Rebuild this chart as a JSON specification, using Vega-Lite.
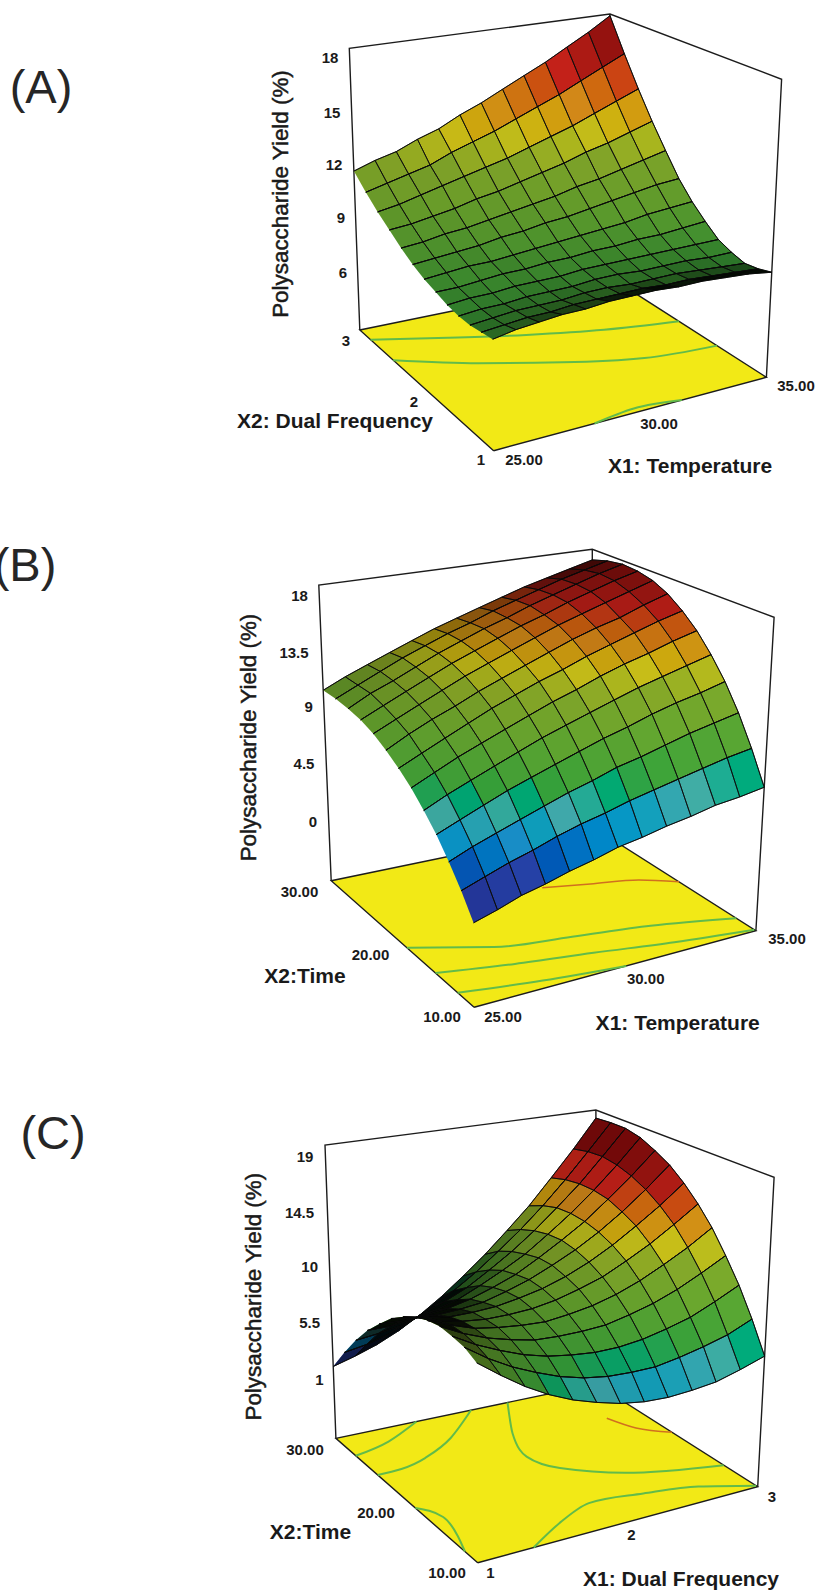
{"$schema":"https://vega.github.io/schema/vega-lite/v6.json","width":817,"height":1594,"autosize":{"type":"none"},"padding":0,"background":"#ffffff","view":{"stroke":null},
"datasets":{
"frames":[
{"s":"A","xf":493.6,"yf":450.7,"xr":766.4,"yr":377.3,"xk":611.8,"yk":278.3,"xl":359.8,"yl":330,"xF":491,"yF":134.7,"xR":781.6,"yR":79.3,"xK":610,"yK":14,"xL":349.3,"yL":48.3,"z0":3,"z1":18.6,"c0":2,"c1":17.9},
{"s":"B","xf":474.1,"yf":1007.3,"xr":755.9,"yr":930.7,"xk":592.3,"yk":826.7,"xl":331.2,"yl":880.7,"xF":472,"yF":675,"xR":774.1,"yR":617.3,"xK":592.3,"yK":549.3,"xL":318.8,"yL":585,"z0":-4.7,"z1":18.9,"c0":1,"c1":19},
{"s":"C","xf":477.7,"yf":1562.7,"xr":757.7,"yr":1486.7,"xk":595.9,"yk":1384,"xl":335.9,"yl":1438.3,"xF":476,"yF":1233.7,"xR":774.1,"yR":1177.3,"xK":595.9,"yK":1110,"xL":325,"yL":1145,"z0":-3.8,"z1":19.9,"c0":1.2,"c1":18.1}],
"geo":[
{"s":"A","k":"box","g":"A1","o":0,"u":0,"v":1,"h":0},{"s":"A","k":"box","g":"A1","o":1,"u":0,"v":1,"h":1},{"s":"A","k":"box","g":"A1","o":2,"u":1,"v":1,"h":1},{"s":"A","k":"box","g":"A1","o":3,"u":1,"v":0,"h":1},{"s":"A","k":"box","g":"A1","o":4,"u":1,"v":0,"h":0},{"s":"A","k":"box","g":"A2","o":0,"u":1,"v":1,"h":1},{"s":"A","k":"box","g":"A2","o":1,"u":1,"v":1,"h":0},
{"s":"B","k":"box","g":"B1","o":0,"u":0,"v":1,"h":0},{"s":"B","k":"box","g":"B1","o":1,"u":0,"v":1,"h":1},{"s":"B","k":"box","g":"B1","o":2,"u":1,"v":1,"h":1},{"s":"B","k":"box","g":"B1","o":3,"u":1,"v":0,"h":1},{"s":"B","k":"box","g":"B1","o":4,"u":1,"v":0,"h":0},{"s":"B","k":"box","g":"B2","o":0,"u":1,"v":1,"h":1},{"s":"B","k":"box","g":"B2","o":1,"u":1,"v":1,"h":0},
{"s":"C","k":"box","g":"C1","o":0,"u":0,"v":1,"h":0},{"s":"C","k":"box","g":"C1","o":1,"u":0,"v":1,"h":1},{"s":"C","k":"box","g":"C1","o":2,"u":1,"v":1,"h":1},{"s":"C","k":"box","g":"C1","o":3,"u":1,"v":0,"h":1},{"s":"C","k":"box","g":"C1","o":4,"u":1,"v":0,"h":0},{"s":"C","k":"box","g":"C2","o":0,"u":1,"v":1,"h":1},{"s":"C","k":"box","g":"C2","o":1,"u":1,"v":1,"h":0},
{"s":"A","k":"floor","g":"AF","o":0,"u":0,"v":0,"h":0},{"s":"A","k":"floor","g":"AF","o":1,"u":1,"v":0,"h":0},{"s":"A","k":"floor","g":"AF","o":2,"u":1,"v":1,"h":0},{"s":"A","k":"floor","g":"AF","o":3,"u":0,"v":1,"h":0},{"s":"A","k":"floor","g":"AF","o":4,"u":0,"v":0,"h":0},
{"s":"B","k":"floor","g":"BF","o":0,"u":0,"v":0,"h":0},{"s":"B","k":"floor","g":"BF","o":1,"u":1,"v":0,"h":0},{"s":"B","k":"floor","g":"BF","o":2,"u":1,"v":1,"h":0},{"s":"B","k":"floor","g":"BF","o":3,"u":0,"v":1,"h":0},{"s":"B","k":"floor","g":"BF","o":4,"u":0,"v":0,"h":0},
{"s":"C","k":"floor","g":"CF","o":0,"u":0,"v":0,"h":0},{"s":"C","k":"floor","g":"CF","o":1,"u":1,"v":0,"h":0},{"s":"C","k":"floor","g":"CF","o":2,"u":1,"v":1,"h":0},{"s":"C","k":"floor","g":"CF","o":3,"u":0,"v":1,"h":0},{"s":"C","k":"floor","g":"CF","o":4,"u":0,"v":0,"h":0},
{"s":"A","k":"low","g":"Ac1","o":0,"u":0,"v":0.92,"h":0},{"s":"A","k":"low","g":"Ac1","o":1,"u":0.25,"v":0.82,"h":0},{"s":"A","k":"low","g":"Ac1","o":2,"u":0.5,"v":0.72,"h":0},{"s":"A","k":"low","g":"Ac1","o":3,"u":0.75,"v":0.63,"h":0},{"s":"A","k":"low","g":"Ac1","o":4,"u":1,"v":0.565,"h":0},
{"s":"A","k":"low","g":"Ac2","o":0,"u":0,"v":0.75,"h":0},{"s":"A","k":"low","g":"Ac2","o":1,"u":0.25,"v":0.6,"h":0},{"s":"A","k":"low","g":"Ac2","o":2,"u":0.5,"v":0.47,"h":0},{"s":"A","k":"low","g":"Ac2","o":3,"u":0.75,"v":0.36,"h":0},{"s":"A","k":"low","g":"Ac2","o":4,"u":1,"v":0.32,"h":0},
{"s":"A","k":"low","g":"Ac3","o":0,"u":0.37,"v":0,"h":0},{"s":"A","k":"low","g":"Ac3","o":1,"u":0.53,"v":0.03,"h":0},{"s":"A","k":"low","g":"Ac3","o":2,"u":0.69,"v":0,"h":0},
{"s":"B","k":"low","g":"Bc1","o":0,"u":0,"v":0.47,"h":0},{"s":"B","k":"low","g":"Bc1","o":1,"u":0.25,"v":0.34,"h":0},{"s":"B","k":"low","g":"Bc1","o":2,"u":0.5,"v":0.28,"h":0},{"s":"B","k":"low","g":"Bc1","o":3,"u":0.75,"v":0.22,"h":0},{"s":"B","k":"low","g":"Bc1","o":4,"u":1,"v":0.12,"h":0},
{"s":"B","k":"low","g":"Bc2","o":0,"u":0,"v":0.27,"h":0},{"s":"B","k":"low","g":"Bc2","o":1,"u":0.25,"v":0.2,"h":0},{"s":"B","k":"low","g":"Bc2","o":2,"u":0.5,"v":0.14,"h":0},{"s":"B","k":"low","g":"Bc2","o":3,"u":0.75,"v":0.07,"h":0},{"s":"B","k":"low","g":"Bc2","o":4,"u":1,"v":0.01,"h":0},
{"s":"B","k":"low","g":"Bc3","o":0,"u":0,"v":0.115,"h":0},{"s":"B","k":"low","g":"Bc3","o":1,"u":0.27,"v":0.05,"h":0},{"s":"B","k":"low","g":"Bc3","o":2,"u":0.54,"v":0,"h":0},
{"s":"B","k":"high","g":"Bc4","o":0,"u":0.6,"v":0.65,"h":0},{"s":"B","k":"high","g":"Bc4","o":1,"u":0.75,"v":0.6,"h":0},{"s":"B","k":"high","g":"Bc4","o":2,"u":0.9,"v":0.55,"h":0},{"s":"B","k":"high","g":"Bc4","o":3,"u":1,"v":0.47,"h":0},
{"s":"C","k":"low","g":"Cc1","o":0,"u":0,"v":0.86,"h":0},{"s":"C","k":"low","g":"Cc1","o":1,"u":0.15,"v":0.906,"h":0},{"s":"C","k":"low","g":"Cc1","o":2,"u":0.31,"v":1,"h":0},
{"s":"C","k":"low","g":"Cc2","o":0,"u":0,"v":0.705,"h":0},{"s":"C","k":"low","g":"Cc2","o":1,"u":0.2,"v":0.745,"h":0},{"s":"C","k":"low","g":"Cc2","o":2,"u":0.35,"v":0.84,"h":0},{"s":"C","k":"low","g":"Cc2","o":3,"u":0.52,"v":1,"h":0},
{"s":"C","k":"low","g":"Cc3","o":0,"u":0.66,"v":1,"h":0},{"s":"C","k":"low","g":"Cc3","o":1,"u":0.55,"v":0.78,"h":0},{"s":"C","k":"low","g":"Cc3","o":2,"u":0.5,"v":0.6,"h":0},{"s":"C","k":"low","g":"Cc3","o":3,"u":0.55,"v":0.47,"h":0},{"s":"C","k":"low","g":"Cc3","o":4,"u":0.71,"v":0.33,"h":0},{"s":"C","k":"low","g":"Cc3","o":5,"u":1,"v":0.21,"h":0},
{"s":"C","k":"low","g":"Cc5","o":0,"u":0.2,"v":0,"h":0},{"s":"C","k":"low","g":"Cc5","o":1,"u":0.35,"v":0.11,"h":0},{"s":"C","k":"low","g":"Cc5","o":2,"u":0.5,"v":0.19,"h":0},{"s":"C","k":"low","g":"Cc5","o":3,"u":0.68,"v":0.16,"h":0},{"s":"C","k":"low","g":"Cc5","o":4,"u":0.85,"v":0.11,"h":0},{"s":"C","k":"low","g":"Cc5","o":5,"u":1,"v":0.01,"h":0},
{"s":"C","k":"low","g":"Cc6","o":0,"u":0,"v":0.44,"h":0},{"s":"C","k":"low","g":"Cc6","o":1,"u":0.05,"v":0.34,"h":0},{"s":"C","k":"low","g":"Cc6","o":2,"u":0.03,"v":0.2,"h":0},{"s":"C","k":"low","g":"Cc6","o":3,"u":0,"v":0.09,"h":0},
{"s":"C","k":"high","g":"Cc4","o":0,"u":0.88,"v":0.736,"h":0},{"s":"C","k":"high","g":"Cc4","o":1,"u":0.92,"v":0.62,"h":0},{"s":"C","k":"high","g":"Cc4","o":2,"u":1,"v":0.53,"h":0}],
"labels":[
{"k":"tick","t":"18","px":330,"py":58},{"k":"tick","t":"15","px":332,"py":113},{"k":"tick","t":"12","px":334,"py":165},{"k":"tick","t":"9","px":341,"py":218},{"k":"tick","t":"6","px":343,"py":273},{"k":"tick","t":"3","px":346,"py":341},{"k":"tick","t":"2","px":414,"py":402},{"k":"tick","t":"1","px":481,"py":460},{"k":"tick","t":"25.00","px":524,"py":460},{"k":"tick","t":"30.00","px":659,"py":424},{"k":"tick","t":"35.00","px":796,"py":386},
{"k":"tick","t":"18","px":299.5,"py":596},{"k":"tick","t":"13.5","px":294,"py":652.7},{"k":"tick","t":"9","px":308.6,"py":707},{"k":"tick","t":"4.5","px":304,"py":764},{"k":"tick","t":"0","px":313,"py":821.7},{"k":"tick","t":"30.00","px":299.5,"py":891.7},{"k":"tick","t":"20.00","px":370.5,"py":955},{"k":"tick","t":"10.00","px":442,"py":1017},{"k":"tick","t":"25.00","px":503,"py":1016.7},{"k":"tick","t":"30.00","px":645.7,"py":979},{"k":"tick","t":"35.00","px":787,"py":939},
{"k":"tick","t":"19","px":305,"py":1156.7},{"k":"tick","t":"14.5","px":299.5,"py":1212.7},{"k":"tick","t":"10","px":309.7,"py":1266.7},{"k":"tick","t":"5.5","px":309.7,"py":1323},{"k":"tick","t":"1","px":319.5,"py":1380},{"k":"tick","t":"30.00","px":305,"py":1450},{"k":"tick","t":"20.00","px":376,"py":1512.7},{"k":"tick","t":"10.00","px":447,"py":1573},{"k":"tick","t":"1","px":490.5,"py":1573},{"k":"tick","t":"2","px":631.5,"py":1535},{"k":"tick","t":"3","px":772,"py":1496.7},
{"k":"title","t":"X2: Dual Frequency","px":335,"py":422},{"k":"title","t":"X1: Temperature","px":690,"py":467},{"k":"title","t":"X2:Time","px":305,"py":976.7},{"k":"title","t":"X1: Temperature","px":677.7,"py":1024},{"k":"title","t":"X2:Time","px":310.5,"py":1533},{"k":"title","t":"X1: Dual Frequency","px":681,"py":1580},
{"k":"ytitle","t":"Polysaccharide Yield (%)","px":281,"py":194},{"k":"ytitle","t":"Polysaccharide Yield (%)","px":248.6,"py":737.5},{"k":"ytitle","t":"Polysaccharide Yield (%)","px":254,"py":1296.7},
{"k":"panel","t":"(A)","px":41,"py":89},{"k":"panel","t":"(B)","px":25,"py":567},{"k":"panel","t":"(C)","px":53,"py":1135}],
"nodes":[
{"s":"A","a":12,"b":12,"z":18.5},{"s":"A","a":11,"b":12,"z":17.7},{"s":"A","a":10,"b":12,"z":17},{"s":"A","a":9,"b":12,"z":16.3},{"s":"A","a":8,"b":12,"z":15.7},{"s":"A","a":7,"b":12,"z":15.1},{"s":"A","a":6,"b":12,"z":14.5},{"s":"A","a":5,"b":12,"z":14},{"s":"A","a":4,"b":12,"z":13.4},{"s":"A","a":3,"b":12,"z":13},{"s":"A","a":2,"b":12,"z":12.5},{"s":"A","a":1,"b":12,"z":12.2},{"s":"A","a":0,"b":12,"z":11.8},
{"s":"A","a":12,"b":11,"z":16.6},{"s":"A","a":11,"b":11,"z":16},{"s":"A","a":10,"b":11,"z":15.4},{"s":"A","a":9,"b":11,"z":14.8},{"s":"A","a":8,"b":11,"z":14.3},{"s":"A","a":7,"b":11,"z":13.8},{"s":"A","a":6,"b":11,"z":13.3},{"s":"A","a":5,"b":11,"z":12.9},{"s":"A","a":4,"b":11,"z":12.5},{"s":"A","a":3,"b":11,"z":12},{"s":"A","a":2,"b":11,"z":11.7},{"s":"A","a":1,"b":11,"z":11.4},{"s":"A","a":0,"b":11,"z":11.1},
{"s":"A","a":12,"b":10,"z":14.9},{"s":"A","a":11,"b":10,"z":14.4},{"s":"A","a":10,"b":10,"z":13.9},{"s":"A","a":9,"b":10,"z":13.4},{"s":"A","a":8,"b":10,"z":13},{"s":"A","a":7,"b":10,"z":12.6},{"s":"A","a":6,"b":10,"z":12.2},{"s":"A","a":5,"b":10,"z":11.9},{"s":"A","a":4,"b":10,"z":11.6},{"s":"A","a":3,"b":10,"z":11.3},{"s":"A","a":2,"b":10,"z":11},{"s":"A","a":1,"b":10,"z":10.7},{"s":"A","a":0,"b":10,"z":10.5},
{"s":"A","a":12,"b":9,"z":13.4},{"s":"A","a":11,"b":9,"z":13},{"s":"A","a":10,"b":9,"z":12.6},{"s":"A","a":9,"b":9,"z":12.3},{"s":"A","a":8,"b":9,"z":11.9},{"s":"A","a":7,"b":9,"z":11.6},{"s":"A","a":6,"b":9,"z":11.3},{"s":"A","a":5,"b":9,"z":11},{"s":"A","a":4,"b":9,"z":10.8},{"s":"A","a":3,"b":9,"z":10.5},{"s":"A","a":2,"b":9,"z":10.3},{"s":"A","a":1,"b":9,"z":10.1},{"s":"A","a":0,"b":9,"z":10},
{"s":"A","a":12,"b":8,"z":12.1},{"s":"A","a":11,"b":8,"z":11.8},{"s":"A","a":10,"b":8,"z":11.5},{"s":"A","a":9,"b":8,"z":11.2},{"s":"A","a":8,"b":8,"z":11},{"s":"A","a":7,"b":8,"z":10.7},{"s":"A","a":6,"b":8,"z":10.5},{"s":"A","a":5,"b":8,"z":10.3},{"s":"A","a":4,"b":8,"z":10.1},{"s":"A","a":3,"b":8,"z":9.9},{"s":"A","a":2,"b":8,"z":9.8},{"s":"A","a":1,"b":8,"z":9.6},{"s":"A","a":0,"b":8,"z":9.5},
{"s":"A","a":12,"b":7,"z":10.9},{"s":"A","a":11,"b":7,"z":10.8},{"s":"A","a":10,"b":7,"z":10.6},{"s":"A","a":9,"b":7,"z":10.4},{"s":"A","a":8,"b":7,"z":10.2},{"s":"A","a":7,"b":7,"z":10},{"s":"A","a":6,"b":7,"z":9.9},{"s":"A","a":5,"b":7,"z":9.7},{"s":"A","a":4,"b":7,"z":9.6},{"s":"A","a":3,"b":7,"z":9.4},{"s":"A","a":2,"b":7,"z":9.3},{"s":"A","a":1,"b":7,"z":9.2},{"s":"A","a":0,"b":7,"z":9.1},
{"s":"A","a":12,"b":6,"z":10},{"s":"A","a":11,"b":6,"z":9.9},{"s":"A","a":10,"b":6,"z":9.8},{"s":"A","a":9,"b":6,"z":9.6},{"s":"A","a":8,"b":6,"z":9.5},{"s":"A","a":7,"b":6,"z":9.4},{"s":"A","a":6,"b":6,"z":9.3},{"s":"A","a":5,"b":6,"z":9.2},{"s":"A","a":4,"b":6,"z":9.1},{"s":"A","a":3,"b":6,"z":9},{"s":"A","a":2,"b":6,"z":9},{"s":"A","a":1,"b":6,"z":8.9},{"s":"A","a":0,"b":6,"z":8.8},
{"s":"A","a":12,"b":5,"z":9.3},{"s":"A","a":11,"b":5,"z":9.2},{"s":"A","a":10,"b":5,"z":9.1},{"s":"A","a":9,"b":5,"z":9.1},{"s":"A","a":8,"b":5,"z":9},{"s":"A","a":7,"b":5,"z":9},{"s":"A","a":6,"b":5,"z":8.9},{"s":"A","a":5,"b":5,"z":8.9},{"s":"A","a":4,"b":5,"z":8.8},{"s":"A","a":3,"b":5,"z":8.8},{"s":"A","a":2,"b":5,"z":8.7},{"s":"A","a":1,"b":5,"z":8.6},{"s":"A","a":0,"b":5,"z":8.6},
{"s":"A","a":12,"b":4,"z":8.7},{"s":"A","a":11,"b":4,"z":8.7},{"s":"A","a":10,"b":4,"z":8.7},{"s":"A","a":9,"b":4,"z":8.7},{"s":"A","a":8,"b":4,"z":8.7},{"s":"A","a":7,"b":4,"z":8.7},{"s":"A","a":6,"b":4,"z":8.7},{"s":"A","a":5,"b":4,"z":8.6},{"s":"A","a":4,"b":4,"z":8.6},{"s":"A","a":3,"b":4,"z":8.6},{"s":"A","a":2,"b":4,"z":8.5},{"s":"A","a":1,"b":4,"z":8.5},{"s":"A","a":0,"b":4,"z":8.4},
{"s":"A","a":12,"b":3,"z":8.4},{"s":"A","a":11,"b":3,"z":8.4},{"s":"A","a":10,"b":3,"z":8.5},{"s":"A","a":9,"b":3,"z":8.5},{"s":"A","a":8,"b":3,"z":8.5},{"s":"A","a":7,"b":3,"z":8.6},{"s":"A","a":6,"b":3,"z":8.6},{"s":"A","a":5,"b":3,"z":8.5},{"s":"A","a":4,"b":3,"z":8.5},{"s":"A","a":3,"b":3,"z":8.5},{"s":"A","a":2,"b":3,"z":8.4},{"s":"A","a":1,"b":3,"z":8.4},{"s":"A","a":0,"b":3,"z":8.3},
{"s":"A","a":12,"b":2,"z":8.2},{"s":"A","a":11,"b":2,"z":8.3},{"s":"A","a":10,"b":2,"z":8.4},{"s":"A","a":9,"b":2,"z":8.5},{"s":"A","a":8,"b":2,"z":8.5},{"s":"A","a":7,"b":2,"z":8.5},{"s":"A","a":6,"b":2,"z":8.6},{"s":"A","a":5,"b":2,"z":8.6},{"s":"A","a":4,"b":2,"z":8.5},{"s":"A","a":3,"b":2,"z":8.5},{"s":"A","a":2,"b":2,"z":8.5},{"s":"A","a":1,"b":2,"z":8.4},{"s":"A","a":0,"b":2,"z":8.3},
{"s":"A","a":12,"b":1,"z":8.3},{"s":"A","a":11,"b":1,"z":8.4},{"s":"A","a":10,"b":1,"z":8.5},{"s":"A","a":9,"b":1,"z":8.6},{"s":"A","a":8,"b":1,"z":8.6},{"s":"A","a":7,"b":1,"z":8.7},{"s":"A","a":6,"b":1,"z":8.7},{"s":"A","a":5,"b":1,"z":8.7},{"s":"A","a":4,"b":1,"z":8.7},{"s":"A","a":3,"b":1,"z":8.6},{"s":"A","a":2,"b":1,"z":8.6},{"s":"A","a":1,"b":1,"z":8.5},{"s":"A","a":0,"b":1,"z":8.4},
{"s":"A","a":12,"b":0,"z":8.5},{"s":"A","a":11,"b":0,"z":8.7},{"s":"A","a":10,"b":0,"z":8.8},{"s":"A","a":9,"b":0,"z":8.9},{"s":"A","a":8,"b":0,"z":8.9},{"s":"A","a":7,"b":0,"z":9},{"s":"A","a":6,"b":0,"z":9},{"s":"A","a":5,"b":0,"z":9},{"s":"A","a":4,"b":0,"z":8.9},{"s":"A","a":3,"b":0,"z":8.9},{"s":"A","a":2,"b":0,"z":8.8},{"s":"A","a":1,"b":0,"z":8.7},{"s":"A","a":0,"b":0,"z":8.5},
{"s":"B","a":12,"b":12,"z":18},{"s":"B","a":11,"b":12,"z":17.5},{"s":"B","a":10,"b":12,"z":17},{"s":"B","a":9,"b":12,"z":16.5},{"s":"B","a":8,"b":12,"z":15.9},{"s":"B","a":7,"b":12,"z":15.3},{"s":"B","a":6,"b":12,"z":14.7},{"s":"B","a":5,"b":12,"z":14.1},{"s":"B","a":4,"b":12,"z":13.4},{"s":"B","a":3,"b":12,"z":12.7},{"s":"B","a":2,"b":12,"z":12},{"s":"B","a":1,"b":12,"z":11.3},{"s":"B","a":0,"b":12,"z":10.5},
{"s":"B","a":12,"b":11,"z":18.4},{"s":"B","a":11,"b":11,"z":17.9},{"s":"B","a":10,"b":11,"z":17.4},{"s":"B","a":9,"b":11,"z":16.8},{"s":"B","a":8,"b":11,"z":16.2},{"s":"B","a":7,"b":11,"z":15.6},{"s":"B","a":6,"b":11,"z":14.9},{"s":"B","a":5,"b":11,"z":14.3},{"s":"B","a":4,"b":11,"z":13.6},{"s":"B","a":3,"b":11,"z":12.9},{"s":"B","a":2,"b":11,"z":12.1},{"s":"B","a":1,"b":11,"z":11.3},{"s":"B","a":0,"b":11,"z":10.5},
{"s":"B","a":12,"b":10,"z":18.6},{"s":"B","a":11,"b":10,"z":18.1},{"s":"B","a":10,"b":10,"z":17.5},{"s":"B","a":9,"b":10,"z":16.9},{"s":"B","a":8,"b":10,"z":16.3},{"s":"B","a":7,"b":10,"z":15.6},{"s":"B","a":6,"b":10,"z":15},{"s":"B","a":5,"b":10,"z":14.3},{"s":"B","a":4,"b":10,"z":13.6},{"s":"B","a":3,"b":10,"z":12.8},{"s":"B","a":2,"b":10,"z":12},{"s":"B","a":1,"b":10,"z":11.3},{"s":"B","a":0,"b":10,"z":10.4},
{"s":"B","a":12,"b":9,"z":18.5},{"s":"B","a":11,"b":9,"z":18},{"s":"B","a":10,"b":9,"z":17.4},{"s":"B","a":9,"b":9,"z":16.8},{"s":"B","a":8,"b":9,"z":16.1},{"s":"B","a":7,"b":9,"z":15.5},{"s":"B","a":6,"b":9,"z":14.8},{"s":"B","a":5,"b":9,"z":14.1},{"s":"B","a":4,"b":9,"z":13.4},{"s":"B","a":3,"b":9,"z":12.6},{"s":"B","a":2,"b":9,"z":11.8},{"s":"B","a":1,"b":9,"z":11},{"s":"B","a":0,"b":9,"z":10.2},
{"s":"B","a":12,"b":8,"z":18.2},{"s":"B","a":11,"b":8,"z":17.6},{"s":"B","a":10,"b":8,"z":17},{"s":"B","a":9,"b":8,"z":16.4},{"s":"B","a":8,"b":8,"z":15.8},{"s":"B","a":7,"b":8,"z":15.1},{"s":"B","a":6,"b":8,"z":14.4},{"s":"B","a":5,"b":8,"z":13.7},{"s":"B","a":4,"b":8,"z":13},{"s":"B","a":3,"b":8,"z":12.2},{"s":"B","a":2,"b":8,"z":11.4},{"s":"B","a":1,"b":8,"z":10.6},{"s":"B","a":0,"b":8,"z":9.8},
{"s":"B","a":12,"b":7,"z":17.6},{"s":"B","a":11,"b":7,"z":17},{"s":"B","a":10,"b":7,"z":16.3},{"s":"B","a":9,"b":7,"z":15.8},{"s":"B","a":8,"b":7,"z":15.2},{"s":"B","a":7,"b":7,"z":14.5},{"s":"B","a":6,"b":7,"z":13.8},{"s":"B","a":5,"b":7,"z":13.1},{"s":"B","a":4,"b":7,"z":12.4},{"s":"B","a":3,"b":7,"z":11.6},{"s":"B","a":2,"b":7,"z":10.9},{"s":"B","a":1,"b":7,"z":10.1},{"s":"B","a":0,"b":7,"z":9.2},
{"s":"B","a":12,"b":6,"z":16.7},{"s":"B","a":11,"b":6,"z":16.2},{"s":"B","a":10,"b":6,"z":15.6},{"s":"B","a":9,"b":6,"z":15},{"s":"B","a":8,"b":6,"z":14.4},{"s":"B","a":7,"b":6,"z":13.7},{"s":"B","a":6,"b":6,"z":13.1},{"s":"B","a":5,"b":6,"z":12.4},{"s":"B","a":4,"b":6,"z":11.7},{"s":"B","a":3,"b":6,"z":10.9},{"s":"B","a":2,"b":6,"z":10.1},{"s":"B","a":1,"b":6,"z":9.3},{"s":"B","a":0,"b":6,"z":8.5},
{"s":"B","a":12,"b":5,"z":15.6},{"s":"B","a":11,"b":5,"z":15.1},{"s":"B","a":10,"b":5,"z":14.5},{"s":"B","a":9,"b":5,"z":14},{"s":"B","a":8,"b":5,"z":13.4},{"s":"B","a":7,"b":5,"z":12.7},{"s":"B","a":6,"b":5,"z":12.1},{"s":"B","a":5,"b":5,"z":11.4},{"s":"B","a":4,"b":5,"z":10.7},{"s":"B","a":3,"b":5,"z":10},{"s":"B","a":2,"b":5,"z":9.3},{"s":"B","a":1,"b":5,"z":8.5},{"s":"B","a":0,"b":5,"z":7.7},
{"s":"B","a":12,"b":4,"z":14.2},{"s":"B","a":11,"b":4,"z":13.7},{"s":"B","a":10,"b":4,"z":13.2},{"s":"B","a":9,"b":4,"z":12.7},{"s":"B","a":8,"b":4,"z":12.1},{"s":"B","a":7,"b":4,"z":11.5},{"s":"B","a":6,"b":4,"z":10.9},{"s":"B","a":5,"b":4,"z":10.3},{"s":"B","a":4,"b":4,"z":9.6},{"s":"B","a":3,"b":4,"z":8.9},{"s":"B","a":2,"b":4,"z":8.2},{"s":"B","a":1,"b":4,"z":7.5},{"s":"B","a":0,"b":4,"z":6.7},
{"s":"B","a":12,"b":3,"z":12.6},{"s":"B","a":11,"b":3,"z":12.1},{"s":"B","a":10,"b":3,"z":11.7},{"s":"B","a":9,"b":3,"z":11.2},{"s":"B","a":8,"b":3,"z":10.6},{"s":"B","a":7,"b":3,"z":10.1},{"s":"B","a":6,"b":3,"z":9.5},{"s":"B","a":5,"b":3,"z":8.9},{"s":"B","a":4,"b":3,"z":8.3},{"s":"B","a":3,"b":3,"z":7.7},{"s":"B","a":2,"b":3,"z":7},{"s":"B","a":1,"b":3,"z":6.3},{"s":"B","a":0,"b":3,"z":5.6},
{"s":"B","a":12,"b":2,"z":10.7},{"s":"B","a":11,"b":2,"z":10.3},{"s":"B","a":10,"b":2,"z":9.9},{"s":"B","a":9,"b":2,"z":9.4},{"s":"B","a":8,"b":2,"z":8.9},{"s":"B","a":7,"b":2,"z":8.5},{"s":"B","a":6,"b":2,"z":7.9},{"s":"B","a":5,"b":2,"z":7.4},{"s":"B","a":4,"b":2,"z":6.8},{"s":"B","a":3,"b":2,"z":6.2},{"s":"B","a":2,"b":2,"z":5.6},{"s":"B","a":1,"b":2,"z":5},{"s":"B","a":0,"b":2,"z":4.3},
{"s":"B","a":12,"b":1,"z":8.5},{"s":"B","a":11,"b":1,"z":8.2},{"s":"B","a":10,"b":1,"z":7.8},{"s":"B","a":9,"b":1,"z":7.4},{"s":"B","a":8,"b":1,"z":7},{"s":"B","a":7,"b":1,"z":6.6},{"s":"B","a":6,"b":1,"z":6.1},{"s":"B","a":5,"b":1,"z":5.7},{"s":"B","a":4,"b":1,"z":5.2},{"s":"B","a":3,"b":1,"z":4.6},{"s":"B","a":2,"b":1,"z":4.1},{"s":"B","a":1,"b":1,"z":3.5},{"s":"B","a":0,"b":1,"z":2.9},
{"s":"B","a":12,"b":0,"z":6.1},{"s":"B","a":11,"b":0,"z":5.8},{"s":"B","a":10,"b":0,"z":5.6},{"s":"B","a":9,"b":0,"z":5.2},{"s":"B","a":8,"b":0,"z":4.9},{"s":"B","a":7,"b":0,"z":4.5},{"s":"B","a":6,"b":0,"z":4.2},{"s":"B","a":5,"b":0,"z":3.7},{"s":"B","a":4,"b":0,"z":3.3},{"s":"B","a":3,"b":0,"z":2.8},{"s":"B","a":2,"b":0,"z":2.4},{"s":"B","a":1,"b":0,"z":1.8},{"s":"B","a":0,"b":0,"z":1.3},
{"s":"C","a":12,"b":12,"z":19.2},{"s":"C","a":11,"b":12,"z":16.8},{"s":"C","a":10,"b":12,"z":14.6},{"s":"C","a":9,"b":12,"z":12.5},{"s":"C","a":8,"b":12,"z":10.7},{"s":"C","a":7,"b":12,"z":9},{"s":"C","a":6,"b":12,"z":7.5},{"s":"C","a":5,"b":12,"z":6.1},{"s":"C","a":4,"b":12,"z":4.9},{"s":"C","a":3,"b":12,"z":3.9},{"s":"C","a":2,"b":12,"z":3.1},{"s":"C","a":1,"b":12,"z":2.5},{"s":"C","a":0,"b":12,"z":2},
{"s":"C","a":12,"b":11,"z":19.3},{"s":"C","a":11,"b":11,"z":17.1},{"s":"C","a":10,"b":11,"z":15},{"s":"C","a":9,"b":11,"z":13.1},{"s":"C","a":8,"b":11,"z":11.4},{"s":"C","a":7,"b":11,"z":9.9},{"s":"C","a":6,"b":11,"z":8.5},{"s":"C","a":5,"b":11,"z":7.3},{"s":"C","a":4,"b":11,"z":6.3},{"s":"C","a":3,"b":11,"z":5.4},{"s":"C","a":2,"b":11,"z":4.7},{"s":"C","a":1,"b":11,"z":4.2},{"s":"C","a":0,"b":11,"z":3.9},
{"s":"C","a":12,"b":10,"z":19.3},{"s":"C","a":11,"b":10,"z":17.2},{"s":"C","a":10,"b":10,"z":15.2},{"s":"C","a":9,"b":10,"z":13.5},{"s":"C","a":8,"b":10,"z":11.9},{"s":"C","a":7,"b":10,"z":10.5},{"s":"C","a":6,"b":10,"z":9.3},{"s":"C","a":5,"b":10,"z":8.2},{"s":"C","a":4,"b":10,"z":7.4},{"s":"C","a":3,"b":10,"z":6.7},{"s":"C","a":2,"b":10,"z":6.1},{"s":"C","a":1,"b":10,"z":5.8},{"s":"C","a":0,"b":10,"z":5.6},
{"s":"C","a":12,"b":9,"z":19},{"s":"C","a":11,"b":9,"z":17},{"s":"C","a":10,"b":9,"z":15.2},{"s":"C","a":9,"b":9,"z":13.6},{"s":"C","a":8,"b":9,"z":12.2},{"s":"C","a":7,"b":9,"z":10.9},{"s":"C","a":6,"b":9,"z":9.9},{"s":"C","a":5,"b":9,"z":9},{"s":"C","a":4,"b":9,"z":8.2},{"s":"C","a":3,"b":9,"z":7.7},{"s":"C","a":2,"b":9,"z":7.3},{"s":"C","a":1,"b":9,"z":7.1},{"s":"C","a":0,"b":9,"z":7.1},
{"s":"C","a":12,"b":8,"z":18.4},{"s":"C","a":11,"b":8,"z":16.6},{"s":"C","a":10,"b":8,"z":15},{"s":"C","a":9,"b":8,"z":13.5},{"s":"C","a":8,"b":8,"z":12.3},{"s":"C","a":7,"b":8,"z":11.2},{"s":"C","a":6,"b":8,"z":10.2},{"s":"C","a":5,"b":8,"z":9.5},{"s":"C","a":4,"b":8,"z":8.9},{"s":"C","a":3,"b":8,"z":8.5},{"s":"C","a":2,"b":8,"z":8.3},{"s":"C","a":1,"b":8,"z":8.2},{"s":"C","a":0,"b":8,"z":8.3},
{"s":"C","a":12,"b":7,"z":17.7},{"s":"C","a":11,"b":7,"z":16},{"s":"C","a":10,"b":7,"z":14.5},{"s":"C","a":9,"b":7,"z":13.2},{"s":"C","a":8,"b":7,"z":12.1},{"s":"C","a":7,"b":7,"z":11.2},{"s":"C","a":6,"b":7,"z":10.4},{"s":"C","a":5,"b":7,"z":9.8},{"s":"C","a":4,"b":7,"z":9.3},{"s":"C","a":3,"b":7,"z":9.1},{"s":"C","a":2,"b":7,"z":9},{"s":"C","a":1,"b":7,"z":9.1},{"s":"C","a":0,"b":7,"z":9.4},
{"s":"C","a":12,"b":6,"z":16.7},{"s":"C","a":11,"b":6,"z":15.2},{"s":"C","a":10,"b":6,"z":13.9},{"s":"C","a":9,"b":6,"z":12.7},{"s":"C","a":8,"b":6,"z":11.7},{"s":"C","a":7,"b":6,"z":10.9},{"s":"C","a":6,"b":6,"z":10.3},{"s":"C","a":5,"b":6,"z":9.9},{"s":"C","a":4,"b":6,"z":9.6},{"s":"C","a":3,"b":6,"z":9.5},{"s":"C","a":2,"b":6,"z":9.5},{"s":"C","a":1,"b":6,"z":9.8},{"s":"C","a":0,"b":6,"z":10.2},
{"s":"C","a":12,"b":5,"z":15.5},{"s":"C","a":11,"b":5,"z":14.2},{"s":"C","a":10,"b":5,"z":13},{"s":"C","a":9,"b":5,"z":12},{"s":"C","a":8,"b":5,"z":11.1},{"s":"C","a":7,"b":5,"z":10.5},{"s":"C","a":6,"b":5,"z":10},{"s":"C","a":5,"b":5,"z":9.7},{"s":"C","a":4,"b":5,"z":9.6},{"s":"C","a":3,"b":5,"z":9.6},{"s":"C","a":2,"b":5,"z":9.8},{"s":"C","a":1,"b":5,"z":10.2},{"s":"C","a":0,"b":5,"z":10.8},
{"s":"C","a":12,"b":4,"z":14.1},{"s":"C","a":11,"b":4,"z":12.9},{"s":"C","a":10,"b":4,"z":11.9},{"s":"C","a":9,"b":4,"z":11},{"s":"C","a":8,"b":4,"z":10.3},{"s":"C","a":7,"b":4,"z":9.8},{"s":"C","a":6,"b":4,"z":9.5},{"s":"C","a":5,"b":4,"z":9.3},{"s":"C","a":4,"b":4,"z":9.4},{"s":"C","a":3,"b":4,"z":9.6},{"s":"C","a":2,"b":4,"z":9.9},{"s":"C","a":1,"b":4,"z":10.5},{"s":"C","a":0,"b":4,"z":11.2},
{"s":"C","a":12,"b":3,"z":12.4},{"s":"C","a":11,"b":3,"z":11.4},{"s":"C","a":10,"b":3,"z":10.5},{"s":"C","a":9,"b":3,"z":9.8},{"s":"C","a":8,"b":3,"z":9.3},{"s":"C","a":7,"b":3,"z":8.9},{"s":"C","a":6,"b":3,"z":8.8},{"s":"C","a":5,"b":3,"z":8.8},{"s":"C","a":4,"b":3,"z":8.9},{"s":"C","a":3,"b":3,"z":9.3},{"s":"C","a":2,"b":3,"z":9.8},{"s":"C","a":1,"b":3,"z":10.5},{"s":"C","a":0,"b":3,"z":11.4},
{"s":"C","a":12,"b":2,"z":10.6},{"s":"C","a":11,"b":2,"z":9.7},{"s":"C","a":10,"b":2,"z":8.9},{"s":"C","a":9,"b":2,"z":8.4},{"s":"C","a":8,"b":2,"z":8},{"s":"C","a":7,"b":2,"z":7.8},{"s":"C","a":6,"b":2,"z":7.8},{"s":"C","a":5,"b":2,"z":8},{"s":"C","a":4,"b":2,"z":8.3},{"s":"C","a":3,"b":2,"z":8.8},{"s":"C","a":2,"b":2,"z":9.5},{"s":"C","a":1,"b":2,"z":10.3},{"s":"C","a":0,"b":2,"z":11.3},
{"s":"C","a":12,"b":1,"z":8.5},{"s":"C","a":11,"b":1,"z":7.7},{"s":"C","a":10,"b":1,"z":7.2},{"s":"C","a":9,"b":1,"z":6.8},{"s":"C","a":8,"b":1,"z":6.5},{"s":"C","a":7,"b":1,"z":6.5},{"s":"C","a":6,"b":1,"z":6.6},{"s":"C","a":5,"b":1,"z":6.9},{"s":"C","a":4,"b":1,"z":7.4},{"s":"C","a":3,"b":1,"z":8.1},{"s":"C","a":2,"b":1,"z":8.9},{"s":"C","a":1,"b":1,"z":9.9},{"s":"C","a":0,"b":1,"z":11.1},
{"s":"C","a":12,"b":0,"z":6.2},{"s":"C","a":11,"b":0,"z":5.6},{"s":"C","a":10,"b":0,"z":5.1},{"s":"C","a":9,"b":0,"z":4.9},{"s":"C","a":8,"b":0,"z":4.8},{"s":"C","a":7,"b":0,"z":4.9},{"s":"C","a":6,"b":0,"z":5.2},{"s":"C","a":5,"b":0,"z":5.7},{"s":"C","a":4,"b":0,"z":6.3},{"s":"C","a":3,"b":0,"z":7.1},{"s":"C","a":2,"b":0,"z":8.1},{"s":"C","a":1,"b":0,"z":9.3},{"s":"C","a":0,"b":0,"z":10.6}]},
"encoding":{"x":{"field":"px","type":"quantitative","scale":{"domain":[0,817],"nice":false,"zero":false},"axis":null},"y":{"field":"py","type":"quantitative","scale":{"domain":[1594,0],"nice":false,"zero":false},"axis":null}},
"layer":[
{"data":{"name":"geo"},
"transform":[{"lookup":"s","from":{"data":{"name":"frames"},"key":"s","fields":["xf","yf","xr","yr","xk","yk","xl","yl","xF","yF","xR","yR","xK","yK","xL","yL"]}},
{"calculate":"(1-datum.h)*((1-datum.v)*((1-datum.u)*datum.xf+datum.u*datum.xr)+datum.v*((1-datum.u)*datum.xl+datum.u*datum.xk))+datum.h*((1-datum.v)*((1-datum.u)*datum.xF+datum.u*datum.xR)+datum.v*((1-datum.u)*datum.xL+datum.u*datum.xK))","as":"px"},
{"calculate":"(1-datum.h)*((1-datum.v)*((1-datum.u)*datum.yf+datum.u*datum.yr)+datum.v*((1-datum.u)*datum.yl+datum.u*datum.yk))+datum.h*((1-datum.v)*((1-datum.u)*datum.yF+datum.u*datum.yR)+datum.v*((1-datum.u)*datum.yL+datum.u*datum.yK))","as":"py"}],
"layer":[
{"transform":[{"filter":"datum.k=='box'"}],"mark":{"type":"line","stroke":"#1c1c1c","strokeWidth":1.4},"encoding":{"detail":{"field":"g"},"order":{"field":"o","type":"quantitative"}}},
{"transform":[{"filter":"datum.k=='floor'"}],"mark":{"type":"line","stroke":"#1c1c1c","strokeWidth":1.4},"encoding":{"detail":{"field":"g"},"order":{"field":"o","type":"quantitative"},"fill":{"value":"#f2e916"}}},
{"transform":[{"filter":"datum.k=='low'"}],"mark":{"type":"line","stroke":"#62bb4a","strokeWidth":2,"interpolate":"monotone"},"encoding":{"detail":{"field":"g"},"order":{"field":"o","type":"quantitative"}}},
{"transform":[{"filter":"datum.k=='high'"}],"mark":{"type":"line","stroke":"#d0701f","strokeWidth":1.5,"interpolate":"monotone"},"encoding":{"detail":{"field":"g"},"order":{"field":"o","type":"quantitative"}}}
]},
{"data":{"name":"nodes"},
"transform":[{"calculate":"[0,1,2,3]","as":"c"},{"flatten":["c"]},
{"calculate":"datum.a-((datum.c==1||datum.c==2)?1:0)","as":"ca"},{"calculate":"datum.b-(datum.c>=2?1:0)","as":"cb"},
{"filter":"datum.ca>=0&&datum.ca<12&&datum.cb>=0&&datum.cb<12"},
{"calculate":"datum.s+'_'+datum.ca+'_'+datum.cb","as":"cell"},
{"lookup":"s","from":{"data":{"name":"frames"},"key":"s","fields":["xf","yf","xr","yr","xk","yk","xl","yl","xF","yF","xR","yR","xK","yK","xL","yL","z0","z1","c0","c1"]}},
{"calculate":"datum.a/12","as":"u"},{"calculate":"datum.b/12","as":"v"},{"calculate":"(datum.z-datum.z0)/(datum.z1-datum.z0)","as":"h"},
{"calculate":"(1-datum.h)*((1-datum.v)*((1-datum.u)*datum.xf+datum.u*datum.xr)+datum.v*((1-datum.u)*datum.xl+datum.u*datum.xk))+datum.h*((1-datum.v)*((1-datum.u)*datum.xF+datum.u*datum.xR)+datum.v*((1-datum.u)*datum.xL+datum.u*datum.xK))","as":"px"},
{"calculate":"(1-datum.h)*((1-datum.v)*((1-datum.u)*datum.yf+datum.u*datum.yr)+datum.v*((1-datum.u)*datum.yl+datum.u*datum.yk))+datum.h*((1-datum.v)*((1-datum.u)*datum.yF+datum.u*datum.yR)+datum.v*((1-datum.u)*datum.yL+datum.u*datum.yK))","as":"py"},
{"calculate":"datum.c==2?datum.px:(datum.c==0?-datum.px:0)","as":"d1x"},{"calculate":"datum.c==2?datum.py:(datum.c==0?-datum.py:0)","as":"d1y"},
{"calculate":"datum.c==3?datum.px:(datum.c==1?-datum.px:0)","as":"d2x"},{"calculate":"datum.c==3?datum.py:(datum.c==1?-datum.py:0)","as":"d2y"},
{"joinaggregate":[{"op":"mean","field":"z","as":"zm"},{"op":"sum","field":"d1x","as":"ax"},{"op":"sum","field":"d1y","as":"ay"},{"op":"sum","field":"d2x","as":"bx"},{"op":"sum","field":"d2y","as":"by"}],"groupby":["cell"]},
{"calculate":"(datum.zm-datum.c0)/(datum.c1-datum.c0)","as":"t"},
{"calculate":"0.5*abs(datum.ax*datum.by-datum.bx*datum.ay)/11","as":"ar"},
{"calculate":"min(0.95,0.04+9/max(datum.ar,0.5))","as":"shade"}],
"layer":[
{"mark":{"type":"line","stroke":"#0a0a0a","strokeWidth":0.9,"strokeJoin":"round"},"encoding":{"detail":{"field":"cell"},"order":{"field":"c","type":"quantitative"},"fill":{"field":"t","type":"quantitative","legend":null,"scale":{"domain":[0,0.14,0.23,0.3,0.38,0.62,0.7,0.78,0.87,1],"range":["#27339c","#2c4cc4","#1fa8ea","#55c8c4","#3fbe45","#9cc832","#f2e61e","#f8a01e","#e8281e","#900c0c"],"clamp":true}}}},
{"mark":{"type":"line","stroke":"#0a0a0a","strokeWidth":0.9,"strokeOpacity":0.8,"fill":"#000000"},"encoding":{"detail":{"field":"cell"},"order":{"field":"c","type":"quantitative"},"fillOpacity":{"field":"shade","type":"quantitative","legend":null,"scale":null}}}
]},
{"data":{"name":"labels"},
"layer":[
{"transform":[{"filter":"datum.k=='tick'"}],"mark":{"type":"text","font":"Liberation Sans","fontWeight":"bold","fontSize":15,"fill":"#1a1a1a","align":"center","baseline":"middle"},"encoding":{"text":{"field":"t"}}},
{"transform":[{"filter":"datum.k=='title'"}],"mark":{"type":"text","font":"Liberation Sans","fontWeight":"bold","fontSize":21,"fill":"#1a1a1a","align":"center","baseline":"middle"},"encoding":{"text":{"field":"t"}}},
{"transform":[{"filter":"datum.k=='ytitle'"}],"mark":{"type":"text","font":"Liberation Sans","fontSize":22.4,"fill":"#1a1a1a","stroke":"#1a1a1a","strokeWidth":0.5,"align":"center","baseline":"middle","angle":270},"encoding":{"text":{"field":"t"}}},
{"transform":[{"filter":"datum.k=='panel'"}],"mark":{"type":"text","font":"Liberation Sans","fontSize":47,"fill":"#262626","align":"center","baseline":"middle"},"encoding":{"text":{"field":"t"}}}
]}
]}
